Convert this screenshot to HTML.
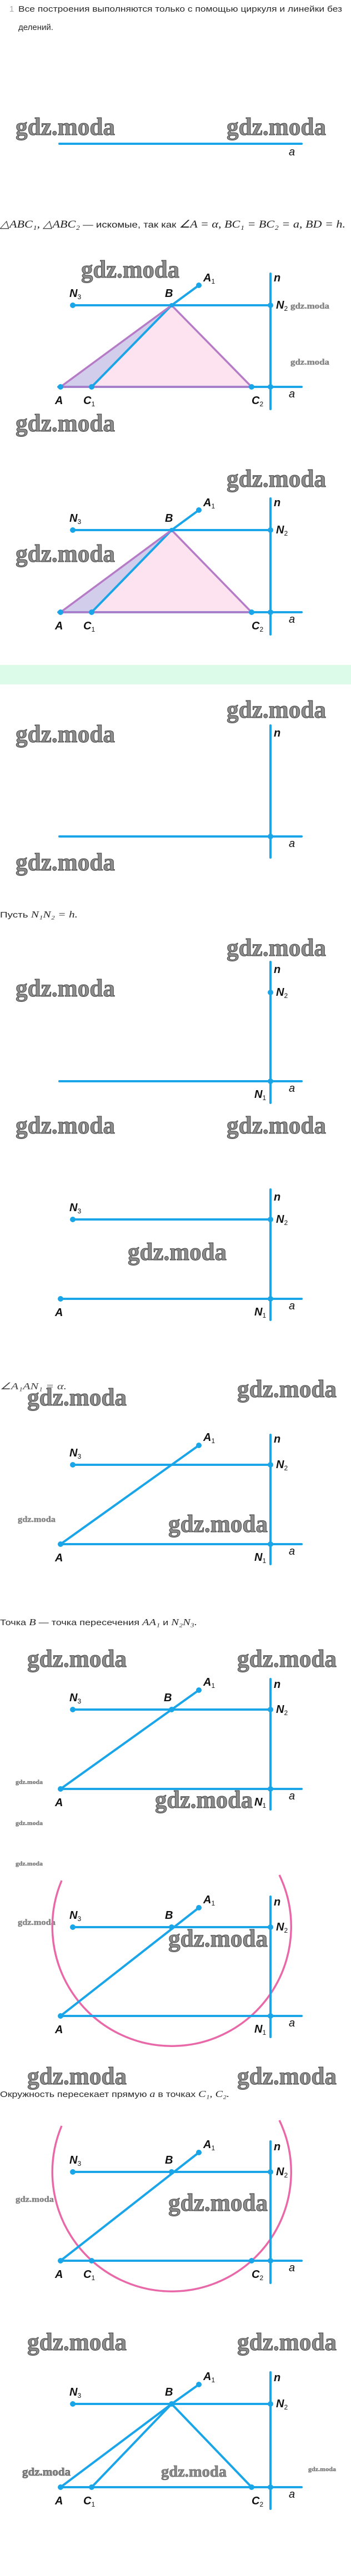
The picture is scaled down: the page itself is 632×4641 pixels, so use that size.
<!DOCTYPE html>
<html><head><meta charset="utf-8">
<style>
html,body{margin:0;padding:0;background:#fff;}
svg{display:block;}
.t{font-family:"Liberation Sans",sans-serif;font-size:15px;fill:#2a2a2a;}
.m{font-family:"Liberation Serif",serif;font-style:italic;}
.w{font-family:"Liberation Serif",serif;font-weight:bold;font-size:44px;fill:#8c8c8c;stroke:#3e3e3e;stroke-width:0.9;}
.ws{font-family:"Liberation Serif",serif;font-weight:bold;font-size:15px;fill:#8c8c8c;stroke:#555;stroke-width:0.3;}
.wm{font-family:"Liberation Serif",serif;font-weight:bold;font-size:28px;fill:#8c8c8c;stroke:#444;stroke-width:0.6;}
.l{font-family:"Liberation Sans",sans-serif;font-style:italic;font-weight:bold;font-size:20px;fill:#111;}
.s{font-style:normal;font-weight:normal;font-size:12px;}
.b{stroke:#1aa5e8;stroke-width:4;stroke-linecap:round;fill:none;}
.p{stroke:#b67bc7;stroke-width:3.5;stroke-linecap:round;fill:none;}
.c{stroke:#e868a8;stroke-width:3.5;fill:none;}
.d{fill:#1aa5e8;}
</style></head><body>
<svg width="632" height="4641" viewBox="0 0 632 4641" xmlns="http://www.w3.org/2000/svg">
<!-- header text -->
<text x="17" y="21" class="t" fill="#aaa" style="fill:#aaa">1</text>
<text x="33" y="21" class="t" textLength="583" lengthAdjust="spacingAndGlyphs">Все построения выполняются только с помощью циркуля и линейки без</text>
<text x="33" y="54" class="t">делений.</text>

<!-- watermarks -->
<g class="w">
<text x="28" y="243" textLength="179" lengthAdjust="spacingAndGlyphs">gdz.moda</text>
<text x="408" y="243" textLength="179" lengthAdjust="spacingAndGlyphs">gdz.moda</text>
<text x="146" y="500" textLength="177" lengthAdjust="spacingAndGlyphs">gdz.moda</text>
<text x="28" y="777" textLength="179" lengthAdjust="spacingAndGlyphs">gdz.moda</text>
<text x="408" y="877" textLength="179" lengthAdjust="spacingAndGlyphs">gdz.moda</text>
<text x="28" y="1012" textLength="179" lengthAdjust="spacingAndGlyphs">gdz.moda</text>
<text x="408" y="1293" textLength="179" lengthAdjust="spacingAndGlyphs">gdz.moda</text>
<text x="28" y="1337" textLength="179" lengthAdjust="spacingAndGlyphs">gdz.moda</text>
<text x="28" y="1568" textLength="179" lengthAdjust="spacingAndGlyphs">gdz.moda</text>
<text x="408" y="1722" textLength="179" lengthAdjust="spacingAndGlyphs">gdz.moda</text>
<text x="28" y="1795" textLength="179" lengthAdjust="spacingAndGlyphs">gdz.moda</text>
<text x="28" y="2042" textLength="179" lengthAdjust="spacingAndGlyphs">gdz.moda</text>
<text x="408" y="2042" textLength="179" lengthAdjust="spacingAndGlyphs">gdz.moda</text>
<text x="230" y="2270" textLength="178" lengthAdjust="spacingAndGlyphs">gdz.moda</text>
<text x="427" y="2517" textLength="179" lengthAdjust="spacingAndGlyphs">gdz.moda</text>
<text x="49" y="2532" textLength="179" lengthAdjust="spacingAndGlyphs">gdz.moda</text>
<text x="303" y="2760" textLength="179" lengthAdjust="spacingAndGlyphs">gdz.moda</text>
<text x="49" y="3003" textLength="179" lengthAdjust="spacingAndGlyphs">gdz.moda</text>
<text x="427" y="3003" textLength="179" lengthAdjust="spacingAndGlyphs">gdz.moda</text>
<text x="279" y="3257" textLength="176" lengthAdjust="spacingAndGlyphs">gdz.moda</text>
<text x="303" y="3507" textLength="179" lengthAdjust="spacingAndGlyphs">gdz.moda</text>
<text x="49" y="3755" textLength="179" lengthAdjust="spacingAndGlyphs">gdz.moda</text>
<text x="427" y="3755" textLength="179" lengthAdjust="spacingAndGlyphs">gdz.moda</text>
<text x="303" y="3983" textLength="179" lengthAdjust="spacingAndGlyphs">gdz.moda</text>
<text x="49" y="4234" textLength="179" lengthAdjust="spacingAndGlyphs">gdz.moda</text>
<text x="427" y="4234" textLength="179" lengthAdjust="spacingAndGlyphs">gdz.moda</text>
</g>
<g class="ws">
<text x="523" y="556" textLength="70" lengthAdjust="spacingAndGlyphs">gdz.moda</text>
<text x="523" y="657" textLength="70" lengthAdjust="spacingAndGlyphs">gdz.moda</text>
<text x="32" y="2742" textLength="68" lengthAdjust="spacingAndGlyphs">gdz.moda</text>
<text x="28" y="3214" textLength="49" lengthAdjust="spacingAndGlyphs" style="font-size:11px">gdz.moda</text>
<text x="28" y="3288" textLength="49" lengthAdjust="spacingAndGlyphs" style="font-size:11px">gdz.moda</text>
<text x="28" y="3361" textLength="49" lengthAdjust="spacingAndGlyphs" style="font-size:11px">gdz.moda</text>
<text x="32" y="3468" textLength="68" lengthAdjust="spacingAndGlyphs">gdz.moda</text>
<text x="28" y="3967" textLength="69" lengthAdjust="spacingAndGlyphs">gdz.moda</text>
<text x="555" y="4452" textLength="50" lengthAdjust="spacingAndGlyphs" style="font-size:11px">gdz.moda</text>
</g>
<g class="wm">
<text x="40" y="4460" textLength="87" lengthAdjust="spacingAndGlyphs" style="font-size:20px">gdz.moda</text>
<text x="290" y="4462" textLength="118" lengthAdjust="spacingAndGlyphs">gdz.moda</text>
</g>

<!-- Fig 0 -->
<line class="b" x1="107" y1="259" x2="543" y2="259"/>
<text class="l" x="520" y="280" style="font-weight:normal">a</text>

<!-- formula -->
<text x="0" y="410" textLength="622" lengthAdjust="spacingAndGlyphs" style="font-size:19px;fill:#222"><tspan class="m" font-family="Liberation Serif">△ABC₁, △ABC₂</tspan><tspan font-family="Liberation Sans" font-size="16"> — искомые, так как </tspan><tspan class="m" font-family="Liberation Serif">∠A = α, BC₁ = BC₂ = a, BD = h.</tspan></text>

<!-- Fig 1 -->
<polygon points="109,697 309,550 453,697" fill="#fde2f0"/>
<polygon points="109,697 165,697 309,550" fill="#d2cdea"/>
<line class="b" x1="131" y1="550" x2="487" y2="550"/>
<line class="b" x1="487" y1="493" x2="487" y2="737"/>
<line class="b" x1="105" y1="697" x2="543" y2="697"/>
<line class="b" x1="309" y1="550" x2="358" y2="514"/>
<line class="b" x1="165" y1="697" x2="309" y2="550"/>
<polyline class="p" points="109,697 309,550 453,697 109,697"/>
<g class="d"><circle cx="131" cy="550" r="5"/><circle cx="309" cy="550" r="4"/><circle cx="358" cy="514" r="5"/><circle cx="487" cy="550" r="5"/><circle cx="109" cy="697" r="5"/><circle cx="165" cy="697" r="5"/><circle cx="453" cy="697" r="5"/><circle cx="487" cy="697" r="5"/></g>
<g class="l">
<text x="125" y="535">N<tspan class="s" dy="4">3</tspan></text>
<text x="297" y="535">B</text>
<text x="366" y="507">A<tspan class="s" dy="4">1</tspan></text>
<text x="493" y="507">n</text>
<text x="497" y="556">N<tspan class="s" dy="4">2</tspan></text>
<text x="99" y="728">A</text>
<text x="150" y="728">C<tspan class="s" dy="4">1</tspan></text>
<text x="453" y="728">C<tspan class="s" dy="4">2</tspan></text>
<text x="520" y="716" style="font-weight:normal">a</text>
</g>

<!-- Fig 2 -->
<polygon points="109,1103 309,955 453,1103" fill="#fde2f0"/>
<polygon points="109,1103 165,1103 309,955" fill="#d2cdea"/>
<line class="b" x1="131" y1="955" x2="487" y2="955"/>
<line class="b" x1="487" y1="898" x2="487" y2="1143"/>
<line class="b" x1="105" y1="1103" x2="543" y2="1103"/>
<line class="b" x1="309" y1="955" x2="358" y2="919"/>
<line class="b" x1="165" y1="1103" x2="309" y2="955"/>
<polyline class="p" points="109,1103 309,955 453,1103 109,1103"/>
<g class="d"><circle cx="131" cy="955" r="5"/><circle cx="309" cy="955" r="4"/><circle cx="358" cy="919" r="5"/><circle cx="487" cy="955" r="5"/><circle cx="109" cy="1103" r="5"/><circle cx="165" cy="1103" r="5"/><circle cx="453" cy="1103" r="5"/><circle cx="487" cy="1103" r="5"/></g>
<g class="l">
<text x="125" y="940">N<tspan class="s" dy="4">3</tspan></text>
<text x="297" y="940">B</text>
<text x="366" y="912">A<tspan class="s" dy="4">1</tspan></text>
<text x="493" y="912">n</text>
<text x="497" y="961">N<tspan class="s" dy="4">2</tspan></text>
<text x="99" y="1134">A</text>
<text x="150" y="1134">C<tspan class="s" dy="4">1</tspan></text>
<text x="453" y="1134">C<tspan class="s" dy="4">2</tspan></text>
<text x="520" y="1122" style="font-weight:normal">a</text>
</g>

<!-- green band -->
<rect x="0" y="1198" width="632" height="35" fill="#dcfce9"/>

<!-- Fig 3 -->
<line class="b" x1="487" y1="1307" x2="487" y2="1545"/>
<line class="b" x1="107" y1="1507" x2="543" y2="1507"/>
<circle class="d" cx="487" cy="1507" r="5"/>
<g class="l"><text x="493" y="1327">n</text><text x="520" y="1526" style="font-weight:normal">a</text></g>

<text x="0" y="1653" class="t" textLength="140" lengthAdjust="spacingAndGlyphs">Пусть <tspan class="m" font-family="Liberation Serif" font-size="17">N₁N₂ = h.</tspan></text>

<!-- Fig 4 -->
<line class="b" x1="487" y1="1733" x2="487" y2="1987"/>
<line class="b" x1="107" y1="1948" x2="543" y2="1948"/>
<circle class="d" cx="487" cy="1788" r="5"/><circle class="d" cx="487" cy="1948" r="5"/>
<g class="l">
<text x="493" y="1753">n</text>
<text x="497" y="1794">N<tspan class="s" dy="4">2</tspan></text>
<text x="458" y="1978">N<tspan class="s" dy="4">1</tspan></text>
<text x="520" y="1967" style="font-weight:normal">a</text>
</g>

<!-- Fig 5 -->
<line class="b" x1="131" y1="2197" x2="487" y2="2197"/>
<line class="b" x1="487" y1="2143" x2="487" y2="2378"/>
<line class="b" x1="109" y1="2340" x2="543" y2="2340"/>
<g class="d"><circle cx="131" cy="2197" r="5"/><circle cx="487" cy="2197" r="5"/><circle cx="109" cy="2340" r="5"/><circle cx="487" cy="2340" r="5"/></g>
<g class="l">
<text x="125" y="2182">N<tspan class="s" dy="4">3</tspan></text>
<text x="493" y="2163">n</text>
<text x="497" y="2203">N<tspan class="s" dy="4">2</tspan></text>
<text x="99" y="2371">A</text>
<text x="458" y="2370">N<tspan class="s" dy="4">1</tspan></text>
<text x="520" y="2359" style="font-weight:normal">a</text>
</g>

<text x="0" y="2503" textLength="120" lengthAdjust="spacingAndGlyphs" class="m" style="font-size:17px;fill:#444;font-family:'Liberation Serif',serif">∠A₁AN₁ = α.</text>

<!-- Fig 6 -->
<line class="b" x1="131" y1="2639" x2="487" y2="2639"/>
<line class="b" x1="487" y1="2585" x2="487" y2="2818"/>
<line class="b" x1="109" y1="2782" x2="543" y2="2782"/>
<line class="b" x1="109" y1="2782" x2="358" y2="2604"/>
<g class="d"><circle cx="131" cy="2639" r="5"/><circle cx="487" cy="2639" r="5"/><circle cx="358" cy="2604" r="5"/><circle cx="109" cy="2782" r="5"/><circle cx="487" cy="2782" r="5"/></g>
<g class="l">
<text x="125" y="2624">N<tspan class="s" dy="4">3</tspan></text>
<text x="366" y="2596">A<tspan class="s" dy="4">1</tspan></text>
<text x="493" y="2599">n</text>
<text x="497" y="2645">N<tspan class="s" dy="4">2</tspan></text>
<text x="99" y="2813">A</text>
<text x="458" y="2812">N<tspan class="s" dy="4">1</tspan></text>
<text x="520" y="2801" style="font-weight:normal">a</text>
</g>

<text x="0" y="2928" class="t" textLength="355" lengthAdjust="spacingAndGlyphs">Точка <tspan class="m" font-family="Liberation Serif" font-size="17">B</tspan> — точка пересечения <tspan class="m" font-family="Liberation Serif" font-size="17">AA₁</tspan> и <tspan class="m" font-family="Liberation Serif" font-size="17">N₂N₃.</tspan></text>

<!-- Fig 7 -->
<line class="b" x1="131" y1="3080" x2="487" y2="3080"/>
<line class="b" x1="487" y1="3025" x2="487" y2="3260"/>
<line class="b" x1="109" y1="3223" x2="543" y2="3223"/>
<line class="b" x1="109" y1="3223" x2="358" y2="3045"/>
<g class="d"><circle cx="131" cy="3080" r="5"/><circle cx="309" cy="3080" r="5"/><circle cx="487" cy="3080" r="5"/><circle cx="358" cy="3045" r="5"/><circle cx="109" cy="3223" r="5"/><circle cx="487" cy="3223" r="5"/></g>
<g class="l">
<text x="125" y="3065">N<tspan class="s" dy="4">3</tspan></text>
<text x="295" y="3065">B</text>
<text x="366" y="3037">A<tspan class="s" dy="4">1</tspan></text>
<text x="493" y="3041">n</text>
<text x="497" y="3086">N<tspan class="s" dy="4">2</tspan></text>
<text x="99" y="3254">A</text>
<text x="458" y="3253">N<tspan class="s" dy="4">1</tspan></text>
<text x="520" y="3242" style="font-weight:normal">a</text>
</g>

<!-- Fig 8 (circle) -->
<path class="c" d="M111,3388 A215,215 0 1 0 503,3378"/>
<line class="b" x1="131" y1="3472" x2="487" y2="3472"/>
<line class="b" x1="487" y1="3417" x2="487" y2="3670"/>
<line class="b" x1="109" y1="3632" x2="543" y2="3632"/>
<line class="b" x1="109" y1="3632" x2="358" y2="3437"/>
<g class="d"><circle cx="131" cy="3472" r="5"/><circle cx="309" cy="3472" r="5"/><circle cx="487" cy="3472" r="5"/><circle cx="358" cy="3437" r="5"/><circle cx="109" cy="3632" r="5"/><circle cx="487" cy="3632" r="5"/></g>
<g class="l">
<text x="125" y="3457">N<tspan class="s" dy="4">3</tspan></text>
<text x="297" y="3457">B</text>
<text x="366" y="3429">A<tspan class="s" dy="4">1</tspan></text>
<text x="493" y="3433">n</text>
<text x="497" y="3478">N<tspan class="s" dy="4">2</tspan></text>
<text x="99" y="3663">A</text>
<text x="458" y="3662">N<tspan class="s" dy="4">1</tspan></text>
<text x="520" y="3651" style="font-weight:normal">a</text>
</g>

<text x="0" y="3778" class="t" textLength="413" lengthAdjust="spacingAndGlyphs">Окружность пересекает прямую <tspan class="m" font-family="Liberation Serif" font-size="17">a</tspan> в точках <tspan class="m" font-family="Liberation Serif" font-size="17">C₁, C₂.</tspan></text>

<!-- Fig 9 (circle) -->
<path class="c" d="M111,3830 A215,215 0 1 0 503,3820"/>
<line class="b" x1="131" y1="3913" x2="487" y2="3913"/>
<line class="b" x1="487" y1="3858" x2="487" y2="4113"/>
<line class="b" x1="109" y1="4073" x2="543" y2="4073"/>
<line class="b" x1="109" y1="4073" x2="358" y2="3878"/>
<g class="d"><circle cx="131" cy="3913" r="5"/><circle cx="309" cy="3913" r="5"/><circle cx="487" cy="3913" r="5"/><circle cx="358" cy="3878" r="5"/><circle cx="109" cy="4073" r="5"/><circle cx="165" cy="4073" r="5"/><circle cx="453" cy="4073" r="5"/><circle cx="487" cy="4073" r="5"/></g>
<g class="l">
<text x="125" y="3898">N<tspan class="s" dy="4">3</tspan></text>
<text x="297" y="3898">B</text>
<text x="366" y="3870">A<tspan class="s" dy="4">1</tspan></text>
<text x="493" y="3874">n</text>
<text x="497" y="3919">N<tspan class="s" dy="4">2</tspan></text>
<text x="99" y="4104">A</text>
<text x="150" y="4104">C<tspan class="s" dy="4">1</tspan></text>
<text x="453" y="4104">C<tspan class="s" dy="4">2</tspan></text>
<text x="520" y="4092" style="font-weight:normal">a</text>
</g>

<!-- Fig 10 -->
<line class="b" x1="131" y1="4331" x2="487" y2="4331"/>
<line class="b" x1="487" y1="4274" x2="487" y2="4520"/>
<line class="b" x1="109" y1="4481" x2="543" y2="4481"/>
<line class="b" x1="309" y1="4331" x2="358" y2="4296"/>
<line class="b" x1="109" y1="4481" x2="309" y2="4331"/>
<line class="b" x1="165" y1="4481" x2="309" y2="4331"/>
<line class="b" x1="453" y1="4481" x2="309" y2="4331"/>
<g class="d"><circle cx="131" cy="4331" r="5"/><circle cx="309" cy="4331" r="5"/><circle cx="487" cy="4331" r="5"/><circle cx="358" cy="4296" r="5"/><circle cx="109" cy="4481" r="5"/><circle cx="165" cy="4481" r="5"/><circle cx="453" cy="4481" r="5"/><circle cx="487" cy="4481" r="5"/></g>
<g class="l">
<text x="125" y="4316">N<tspan class="s" dy="4">3</tspan></text>
<text x="297" y="4316">B</text>
<text x="366" y="4288">A<tspan class="s" dy="4">1</tspan></text>
<text x="493" y="4290">n</text>
<text x="497" y="4337">N<tspan class="s" dy="4">2</tspan></text>
<text x="99" y="4512">A</text>
<text x="150" y="4512">C<tspan class="s" dy="4">1</tspan></text>
<text x="453" y="4512">C<tspan class="s" dy="4">2</tspan></text>
<text x="520" y="4500" style="font-weight:normal">a</text>
</g>
</svg>
</body></html>
